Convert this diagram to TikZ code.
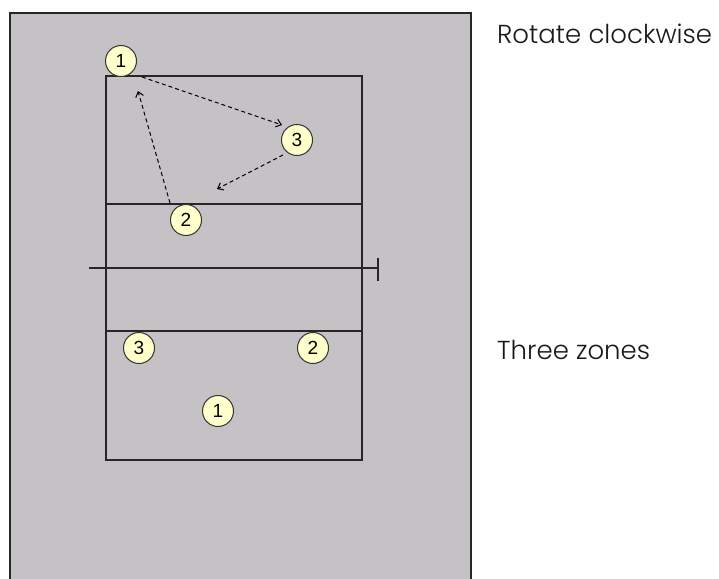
\documentclass[tikz,border=0pt]{standalone}
\usepackage{fontspec}
\setmainfont{Poppins}[UprightFont=* Light]
\newfontfamily\numfont{Liberation Sans}
\usetikzlibrary{arrows.meta}
\definecolor{panelgrey}{HTML}{C4C2C5}
\definecolor{playerfill}{HTML}{FFFFCC}
\begin{document}
\begin{tikzpicture}[x=1pt,y=-1pt,
  player/.style={circle,draw=black!80,fill=playerfill,minimum size=31pt,inner sep=0pt,font=\numfont\fontsize{19}{19}\selectfont,line width=1pt},
  courtline/.style={draw=black!85,line width=1.4pt},
  move/.style={dashed,dash pattern=on 4pt off 3pt,line width=1pt,-{Straight Barb[length=5pt,width=8pt]}},
  caption/.style={anchor=base west,font=\fontsize{26}{28}\selectfont,inner sep=0pt,text=black!90}]
\useasboundingbox (0,0) rectangle (719,578);
\fill[white] (0,0) rectangle (719,578);
\draw[fill=panelgrey,draw=black!85,line width=1.4pt] (10,590) -- (10,13) -- (471,13) -- (471,590);
% court
\draw[courtline] (106,76) rectangle (362,460);
\draw[courtline] (106,204) -- (362,204);
\draw[courtline] (106,331) -- (362,331);
\draw[courtline] (89,268) -- (378,268);
\draw[courtline] (378,258) -- (378,281);
% players top
\node[player] (a1) at (121,61) {1};
\node[player] (a3) at (297,140) {3};
\node[player] (a2) at (186,220) {2};
\coordinate (t1) at (282,125);
\coordinate (t2) at (217,189);
\coordinate (t3) at (138,91);
\draw[move] (142,77) -- (t1);
\draw[move] (283,155) -- (t2);
\draw[move] (170,203) -- (t3);
% players bottom
\node[player] (b3) at (139,348) {3};
\node[player] (b2) at (313,348) {2};
\node[player] (b1) at (218,411) {1};
% captions
\node[caption] (c1) at (497,44) {Rotate clockwise};
\node[caption] (c2) at (497,359) {Three zones};
\end{tikzpicture}
\end{document}
